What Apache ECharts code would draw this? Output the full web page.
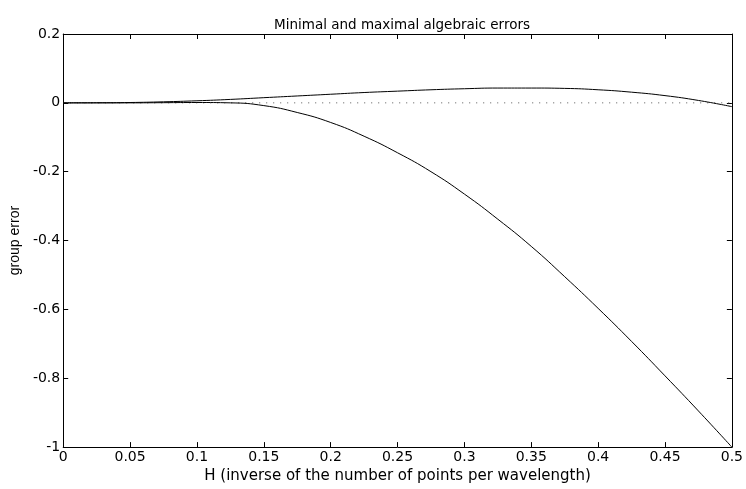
<!DOCTYPE html>
<html>
<head>
<meta charset="utf-8">
<script src="https://cdn.jsdelivr.net/npm/echarts@6/dist/echarts.min.js"></script>
<style>
html,body{margin:0;padding:0;background:#fff;}
#chart{width:746px;height:489px;}
</style>
</head>
<body>
<div id="chart"></div>
<script>
var H = [0, 0.025, 0.05, 0.075, 0.1, 0.125, 0.15, 0.175, 0.2, 0.225, 0.25, 0.275, 0.3, 0.325, 0.35, 0.375, 0.4, 0.425, 0.45, 0.475, 0.5];
var maxError = [0, 0.0002, 0.001, 0.003, 0.006, 0.010, 0.015, 0.020, 0.025, 0.030, 0.034, 0.038, 0.041, 0.043, 0.043, 0.042, 0.038, 0.031, 0.021, 0.007, -0.011];
var minError = [0, 0, 0, 0.0005, 0.001, 0.000, -0.008, -0.028, -0.057, -0.097, -0.145, -0.200, -0.265, -0.338, -0.417, -0.505, -0.597, -0.693, -0.793, -0.895, -1.0];
var zeroLine = [0, 0, 0, 0, 0, 0, 0, 0, 0, 0, 0, 0, 0, 0, 0, 0, 0, 0, 0, 0, 0];

function pairs(xs, ys) { return xs.map(function (x, i) { return [x, ys[i]]; }); }

var wide = 'DejaVu Sans, Verdana, sans-serif';
var narrow = 'Liberation Sans, Arial, Helvetica, sans-serif';
var chart = echarts.init(document.getElementById('chart'), null, {renderer: 'canvas'});
var axisCommon = {
  type: 'value',
  axisLine: {show: true, onZero: false, lineStyle: {color: '#000', width: 1}},
  axisTick: {show: true, inside: true, length: 5, lineStyle: {color: '#000', width: 1}},
  splitLine: {show: false}
};
chart.setOption({
  animation: false,
  backgroundColor: '#fff',
  title: {
    text: 'Minimal and maximal algebraic errors',
    left: 397, top: 13, textAlign: 'center',
    textStyle: {fontFamily: wide, fontSize: 13.5, fontWeight: 'normal', color: '#000'}
  },
  grid: {left: 62, right: 13, top: 34, bottom: 35},
  xAxis: [
    Object.assign({}, axisCommon, {
      position: 'bottom', min: 0, max: 0.5, interval: 0.05,
      name: 'H (inverse of the number of points per wavelength)',
      nameLocation: 'middle', nameGap: 20,
      nameTextStyle: {fontFamily: wide, fontSize: 15, color: '#000'},
      axisLabel: {show: true, margin: 3, fontFamily: wide, fontSize: 14, color: '#000',
        formatter: function (v) { return String(Math.round(v * 100) / 100); }}
    }),
    Object.assign({}, axisCommon, {
      position: 'top', min: 0, max: 0.5, interval: 0.05,
      axisLabel: {show: false}
    })
  ],
  yAxis: [
    Object.assign({}, axisCommon, {
      position: 'left', min: -1, max: 0.2, interval: 0.2,
      name: 'group error', nameLocation: 'middle', nameGap: 40, nameRotate: 90,
      nameTextStyle: {fontFamily: narrow, fontSize: 14, color: '#000'},
      axisLabel: {show: true, margin: 3, fontFamily: wide, fontSize: 14, color: '#000',
        formatter: function (v) { return String(Math.round(v * 10) / 10); }}
    }),
    Object.assign({}, axisCommon, {
      position: 'right', min: -1, max: 0.2, interval: 0.2,
      axisLabel: {show: false}
    })
  ],
  series: [
    {
      type: 'line', name: 'zero', data: pairs(H, zeroLine), symbol: 'none',
      lineStyle: {color: '#555', width: 1, type: [1, 6]}, z: 1
    },
    {
      type: 'line', name: 'max', data: pairs(H, maxError), symbol: 'none', smooth: 0.5,
      lineStyle: {color: '#000', width: 1}, z: 2
    },
    {
      type: 'line', name: 'min', data: pairs(H, minError), symbol: 'none', smooth: 0.5,
      lineStyle: {color: '#000', width: 1}, z: 2
    }
  ]
});
</script>
</body>
</html>
